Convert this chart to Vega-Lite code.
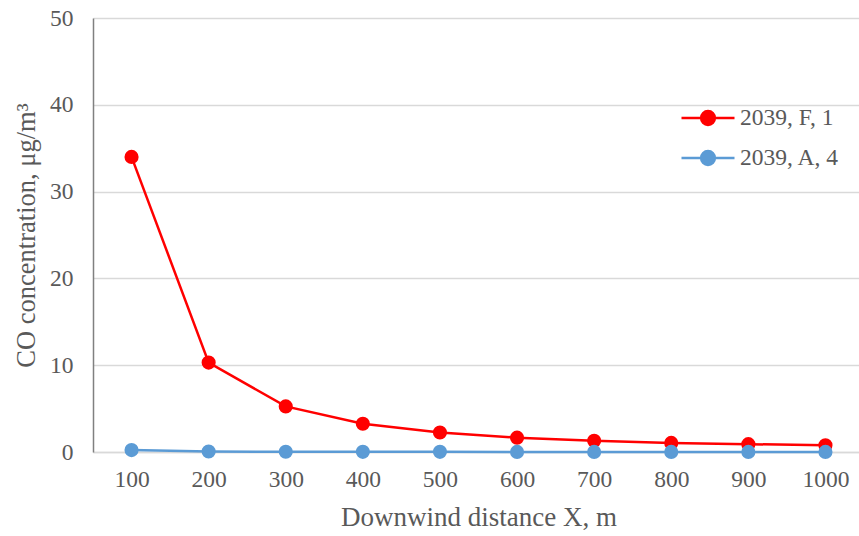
{
  "$schema": "https://vega.github.io/schema/vega-lite/v6.json",
  "autosize": {"type": "none"},
  "padding": {"left": 93, "top": 18, "right": 0, "bottom": 84},
  "width": 771,
  "height": 434,
  "background": "white",
  "config": {
    "view": {"stroke": null},
    "font": "Liberation Serif"
  },
  "data": {
    "values": [
      {"x": "100", "series": "2039, F, 1", "c": 34.0},
      {"x": "200", "series": "2039, F, 1", "c": 10.3},
      {"x": "300", "series": "2039, F, 1", "c": 5.25},
      {"x": "400", "series": "2039, F, 1", "c": 3.25},
      {"x": "500", "series": "2039, F, 1", "c": 2.25},
      {"x": "600", "series": "2039, F, 1", "c": 1.65},
      {"x": "700", "series": "2039, F, 1", "c": 1.3},
      {"x": "800", "series": "2039, F, 1", "c": 1.05},
      {"x": "900", "series": "2039, F, 1", "c": 0.9},
      {"x": "1000", "series": "2039, F, 1", "c": 0.78},
      {"x": "100", "series": "2039, A, 4", "c": 0.22},
      {"x": "200", "series": "2039, A, 4", "c": 0.06},
      {"x": "300", "series": "2039, A, 4", "c": 0.03},
      {"x": "400", "series": "2039, A, 4", "c": 0.02},
      {"x": "500", "series": "2039, A, 4", "c": 0.015},
      {"x": "600", "series": "2039, A, 4", "c": 0.01},
      {"x": "700", "series": "2039, A, 4", "c": 0.01},
      {"x": "800", "series": "2039, A, 4", "c": 0.01},
      {"x": "900", "series": "2039, A, 4", "c": 0.01},
      {"x": "1000", "series": "2039, A, 4", "c": 0.01}
    ]
  },
  "encoding": {
    "x": {
      "field": "x",
      "type": "ordinal",
      "sort": null,
      "scale": {"type": "point", "padding": 0.5},
      "axis": {
        "title": "Downwind distance X, m",
        "labelAngle": 0,
        "labelFont": "Liberation Serif",
        "labelFontSize": 23.5,
        "labelColor": "#595959",
        "labelPadding": 15,
        "ticks": false,
        "domainColor": "#d9d9d9",
        "domainWidth": 1.5,
        "grid": false,
        "titleFont": "Liberation Serif",
        "titleFontSize": 27,
        "titleFontWeight": "normal",
        "titleColor": "#595959",
        "titlePadding": 14
      }
    },
    "y": {
      "field": "c",
      "type": "quantitative",
      "scale": {"domain": [0, 50], "nice": false},
      "axis": {
        "title": "CO concentration, μg/m³",
        "values": [0, 10, 20, 30, 40, 50],
        "labelFont": "Liberation Serif",
        "labelFontSize": 23.5,
        "labelColor": "#595959",
        "labelPadding": 20,
        "ticks": false,
        "domainColor": "#808080",
        "domainWidth": 1.5,
        "grid": true,
        "gridColor": "#d9d9d9",
        "gridWidth": 1.5,
        "titleFont": "Liberation Serif",
        "titleFontSize": 26.5,
        "titleFontWeight": "normal",
        "titleColor": "#595959",
        "titlePadding": 9
      }
    },
    "color": {
      "field": "series",
      "type": "nominal",
      "scale": {"domain": ["2039, F, 1", "2039, A, 4"], "range": ["#ff0000", "#5b9bd5"]},
      "legend": {
        "title": null,
        "orient": "none",
        "legendX": 587,
        "legendY": 72,
        "symbolType": "M-1,0H1M-0.26,0A0.26,0.26,0,1,1,0.26,0A0.26,0.26,0,1,1,-0.26,0Z",
        "symbolSize": 2809,
        "symbolStrokeWidth": 2.5,
        "labelFont": "Liberation Serif",
        "labelFontSize": 23.5,
        "labelColor": "#595959",
        "labelOffset": 4,
        "rowPadding": -12,
        "encode": {
          "symbols": {
            "update": {
              "fill": {"scale": "color", "field": "value"},
              "stroke": {"scale": "color", "field": "value"},
              "opacity": {"value": 1}
            }
          }
        }
      }
    }
  },
  "layer": [
    {"mark": {"type": "line", "strokeWidth": 2.5}},
    {"mark": {"type": "point", "filled": true, "size": 200, "opacity": 1}}
  ]
}
